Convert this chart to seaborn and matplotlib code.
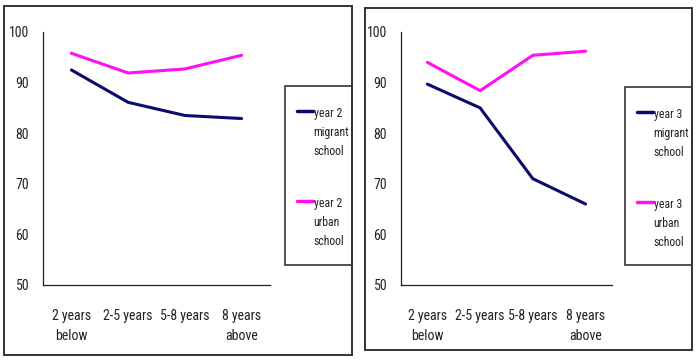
"""
Migrant vs urban school scores by years in city
"""

import numpy as np
import pandas as pd
import seaborn as sns
import matplotlib.pyplot as plt
from matplotlib.patches import Rectangle

# Data
categories = ["2 years\nbelow", "2-5 years", "5-8 years", "8 years\nabove"]
y2_migrant = [92.5, 86.1, 83.5, 82.9]
y2_urban = [95.8, 91.9, 92.7, 95.4]
y3_migrant = [89.7, 85.0, 71.0, 66.0]
y3_urban = [94.0, 88.4, 95.4, 96.2]
y_ticks = [50, 60, 70, 80, 90, 100]

NAVY = "#0b0b6b"
MAGENTA = "#ff10f0"
FS = 10
LEG_FS = 8.5

sns.set_style("white")
plt.rcParams["font.family"] = ["Roboto Condensed", "Liberation Sans Narrow", "DejaVu Sans"]
plt.rcParams["text.color"] = "#222222"
plt.rcParams["xtick.color"] = "#222222"
plt.rcParams["ytick.color"] = "#222222"

W, H = 700, 364
fig = plt.figure(figsize=(W / 100, H / 100), dpi=100)


def fig_rect(x0, y0, x1, y1):
    """pixel box (top-left origin) -> figure fraction [l, b, w, h]"""
    return [x0 / W, 1 - y1 / H, (x1 - x0) / W, (y1 - y0) / H]


def add_box(box, lw):
    l, b, w, h = fig_rect(*box)
    fig.patches.append(Rectangle((l, b), w, h, transform=fig.transFigure, fill=False,
                                 edgecolor="#333333", linewidth=lw))


def panel(ax_box, frame_box, legend_box, year, migrant, urban):
    ax = fig.add_axes(fig_rect(*ax_box))
    df = pd.DataFrame({
        "pos": list(range(len(categories))) * 2,
        "score": migrant + urban,
        "series": [f"year {year}\nmigrant\nschool"] * len(categories)
        + [f"year {year}\nurban\nschool"] * len(categories),
    })
    sns.lineplot(data=df, x="pos", y="score", hue="series",
                 palette=[NAVY, MAGENTA], linewidth=2.2, ax=ax, legend=True)

    ax.set_xlim(-0.5, len(categories) - 0.5)
    ax.set_ylim(50, 100)
    ax.set_yticks(y_ticks)
    ax.set_xticks(range(len(categories)))
    ax.set_xticklabels(categories, fontsize=FS, linespacing=1.6)
    ax.set_xticks(np.arange(-0.5, len(categories)), minor=True)
    ax.tick_params(axis="x", which="major", length=0, pad=17)
    ax.tick_params(axis="x", which="minor", length=4, direction="in", width=0.8)
    ax.tick_params(axis="y", length=0, pad=10, labelsize=FS)
    ax.set_xlabel("")
    ax.set_ylabel("")
    for s in ["top", "right"]:
        ax.spines[s].set_visible(False)
    for s in ["left", "bottom"]:
        ax.spines[s].set_color("#222222")
        ax.spines[s].set_linewidth(0.9)

    # outer frame and legend frame
    add_box(frame_box, 1.4)
    add_box(legend_box, 1.2)

    handles, labels = ax.get_legend_handles_labels()
    leg = ax.legend(handles, labels, loc="upper left", frameon=False,
                    bbox_to_anchor=((legend_box[0] + 12) / W, 1 - (legend_box[1] + 21) / H),
                    bbox_transform=fig.transFigure, borderpad=0, borderaxespad=0,
                    handlelength=1.35, handletextpad=0.05, labelspacing=3.3,
                    prop={"size": LEG_FS})
    for t in leg.get_texts():
        t.set_linespacing(1.6)
    for line in leg.get_lines():
        line.set_linewidth(2.5)
    # put the handle next to the first line of each label
    for col in leg._legend_handle_box.get_children():
        for row in col.get_children():
            row.align = "top"
    return ax


panel((43, 32, 270, 285), (4, 6, 352, 355), (285, 86, 352, 265), 2, y2_migrant, y2_urban)
panel((401, 32, 612, 285), (365, 8, 692, 350), (625, 87, 692, 265), 3, y3_migrant, y3_urban)

fig.savefig("out.png", dpi=100)
